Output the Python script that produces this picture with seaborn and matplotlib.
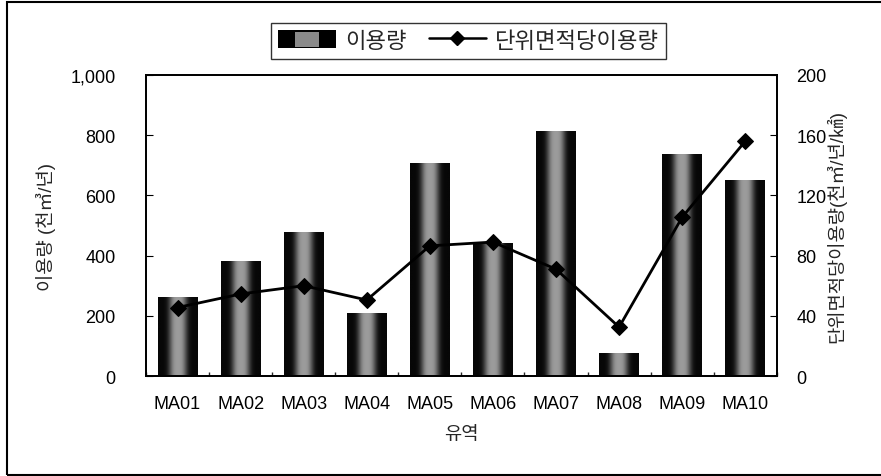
import numpy as np
import matplotlib
matplotlib.use("Agg")
import matplotlib.pyplot as plt
from matplotlib.ticker import FuncFormatter, FixedLocator
from matplotlib.legend_handler import HandlerBase
from matplotlib.patches import Rectangle
from matplotlib.lines import Line2D
import seaborn as sns

# Data
basins = ["MA01", "MA02", "MA03", "MA04", "MA05", "MA06", "MA07", "MA08", "MA09", "MA10"]
usage = [262, 382, 478, 210, 708, 442, 814, 76, 737, 651]            # 천㎥/년
usage_per_area = [45.5, 54.5, 60, 50.5, 86.5, 89, 71, 32.5, 105.5, 156]  # 천㎥/년/㎢

sns.set_theme(style="white")
plt.rcParams["font.family"] = ["Liberation Sans", "Noto Sans CJK KR", "DejaVu Sans"]
plt.rcParams["axes.unicode_minus"] = False

fig = plt.figure(figsize=(8.81, 4.77), dpi=100)
ax = fig.add_axes([0.1657, 0.2096, 0.716, 0.6311])

sns.barplot(x=basins, y=usage, ax=ax, color="black", width=0.63,
            saturation=1, edgecolor="none")

# cylinder-like shading on each bar: dark edges, grey centre band
xs = np.linspace(0, 1, 300)
profile = 0.03 + 0.58 * np.exp(-np.abs((xs - 0.5) / 0.22) ** 3)
grad = np.tile(profile, (2, 1))
for p in ax.patches:
    x0, w, h = p.get_x(), p.get_width(), p.get_height()
    im = ax.imshow(grad, cmap="gray", vmin=0, vmax=1, aspect="auto",
                   extent=[x0, x0 + w, 0, h], interpolation="bilinear", zorder=2)
    im.set_clip_path(p)

ax.set_xlim(-0.5, len(basins) - 0.5)
ax.set_ylim(0, 1000)
ax.yaxis.set_major_locator(FixedLocator([0, 200, 400, 600, 800, 1000]))
ax.yaxis.set_major_formatter(FuncFormatter(lambda v, _: f"{int(v):,}"))
ax.set_xlabel("유역", fontsize=13.5, labelpad=10)
ax.set_ylabel("이용량 (천㎥/년)", fontsize=13.5, labelpad=10)
ax.tick_params(axis="both", labelsize=13, colors="black")
ax.tick_params(axis="y", direction="in", length=5, width=0.8, left=True, pad=22)
ax.tick_params(axis="x", length=0, pad=14)
ax.set_xticks(np.arange(-0.5, len(basins) - 0.4, 1.0), minor=True)
ax.tick_params(axis="x", which="minor", direction="in", length=3, bottom=True)

ax2 = ax.twinx()
sns.lineplot(x=np.arange(len(basins)), y=usage_per_area, ax=ax2, color="black",
             linewidth=2, marker="D", markersize=8, markeredgecolor="black", zorder=5)
ax2.set_ylim(0, 200)
ax2.yaxis.set_major_locator(FixedLocator([0, 40, 80, 120, 160, 200]))
ax2.tick_params(axis="y", direction="in", length=5, width=0.8, right=True,
                labelsize=13, pad=14, colors="black")
ax2.set_ylabel("단위면적당이용량(천㎥/년/㎢)", fontsize=13.5, labelpad=0)

for a in (ax, ax2):
    for s in a.spines.values():
        s.set_color("black")
        s.set_linewidth(1.3)


class ShadedBarHandler(HandlerBase):
    def create_artists(self, legend, orig_handle, xdescent, ydescent,
                       width, height, fontsize, trans):
        outer = Rectangle((-xdescent, -ydescent), width, height,
                          facecolor="black", edgecolor="none", transform=trans)
        inner = Rectangle((-xdescent + width * 0.3, -ydescent + height * 0.1),
                          width * 0.4, height * 0.8,
                          facecolor="#8a8a8a", edgecolor="none", transform=trans)
        return [outer, inner]


bar_handle = Rectangle((0, 0), 1, 1, facecolor="black")
line_handle = Line2D([], [], color="black", linewidth=1.8, marker="D", markersize=7)
leg = fig.legend([bar_handle, line_handle], ["이용량", "단위면적당이용량"],
                 handler_map={Rectangle: ShadedBarHandler()},
                 loc="center", bbox_to_anchor=(0.532, 0.912), ncol=2,
                 fontsize=16, frameon=True, fancybox=False, handlelength=2.6,
                 handleheight=0.9, columnspacing=1.0, handletextpad=0.4,
                 borderpad=0.3)
leg.get_frame().set_edgecolor("black")
leg.get_frame().set_linewidth(1.0)

# outer frame around the whole chart
fig.patches.append(Rectangle((7 / 881, 1 / 477), 1.2, 473 / 477, transform=fig.transFigure,
                             fill=False, edgecolor="black", linewidth=1.5))

fig.savefig("out.png", dpi=100)
